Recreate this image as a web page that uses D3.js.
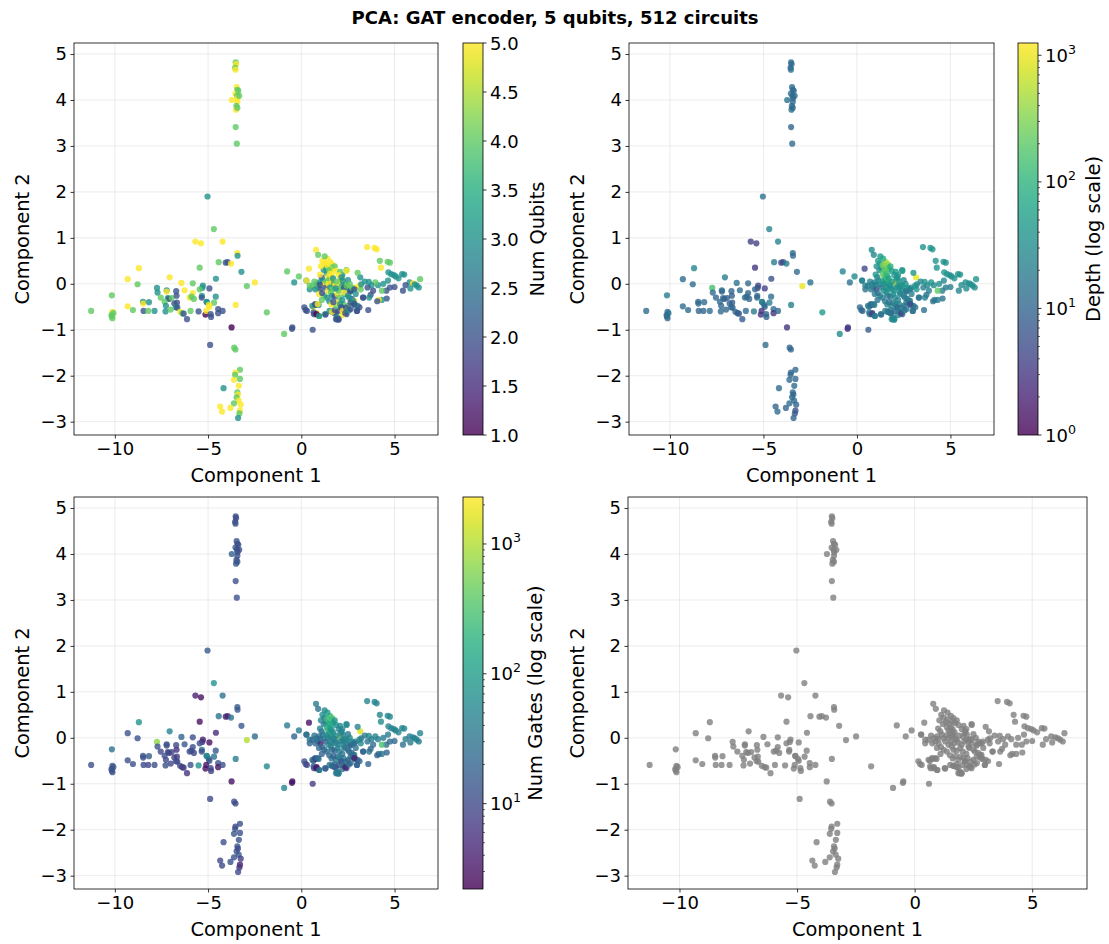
<!DOCTYPE html>
<html><head><meta charset="utf-8">
<script src="https://cdn.jsdelivr.net/npm/d3@7"></script>
<style>body{margin:0;background:#fff} text{font-family:"DejaVu Sans",sans-serif}</style>
</head><body><svg id="c" width="1109" height="944"></svg>
<script>
// PCA component scores [Component 1, Component 2] per circuit
const pcaScores = [
[-3.52,4.82],[-3.50,4.78],[-3.55,4.70],[-3.53,4.66],[-3.47,4.28],[-3.43,4.22],[-3.53,4.14],[-3.38,4.20],[-3.45,4.09],[-3.42,4.04],
[-3.33,4.09],[-3.73,4.00],[-3.43,3.96],[-3.48,3.87],[-3.50,3.79],[-3.43,3.83],[-3.52,3.41],[-3.46,3.05],[-4.89,-1.33],[-3.60,-1.39],
[-3.53,-1.43],[-3.29,-1.87],[-3.53,-1.93],[-3.55,-1.98],[-3.61,-2.09],[-3.29,-2.07],[-4.17,-2.27],[-3.35,-2.22],[-3.43,-2.36],[-3.40,-2.41],
[-3.47,-2.47],[-3.36,-2.54],[-3.25,-2.63],[-3.61,-2.60],[-4.35,-2.67],[-4.25,-2.78],[-3.80,-2.70],[-3.29,-2.76],[-3.32,-2.82],[-3.39,-2.92],
[-5.03,1.90],[-4.69,1.19],[-5.68,0.92],[-5.38,0.88],[-4.22,0.92],[-3.43,0.67],[-3.42,0.61],[-4.43,0.47],[-4.05,0.46],[-3.95,0.47],
[-3.77,0.44],[-5.45,0.35],[-8.71,0.34],[-3.21,0.26],[-4.58,0.11],[-9.31,0.10],[-7.06,0.14],[-2.49,0.03],[-8.78,-0.01],[-6.43,0.02],
[-5.82,0.01],[-2.92,-0.05],[-7.74,-0.09],[-5.28,-0.04],[-5.31,-0.09],[-4.93,-0.10],[-7.22,-0.14],[-7.22,-0.17],[-6.71,-0.16],[-6.26,-0.14],
[-5.82,-0.20],[-5.45,-0.12],[-10.16,-0.25],[-7.71,-0.19],[-7.54,-0.30],[-7.16,-0.31],[-7.09,-0.33],[-6.95,-0.31],[-6.69,-0.26],[-5.99,-0.30],
[-5.89,-0.28],[-5.76,-0.33],[-5.33,-0.26],[-5.34,-0.30],[-4.59,-0.28],[-5.08,-0.39],[-4.68,-0.41],[-8.49,-0.39],[-8.48,-0.43],[-8.17,-0.40],
[-7.33,-0.39],[-7.26,-0.48],[-6.81,-0.43],[-6.67,-0.41],[-6.72,-0.51],[-6.65,-0.52],[-9.31,-0.49],[-9.03,-0.57],[-8.46,-0.59],[-8.21,-0.59],
[-7.87,-0.59],[-7.28,-0.60],[-7.00,-0.56],[-6.50,-0.61],[-6.38,-0.64],[-6.31,-0.65],[-5.94,-0.59],[-6.13,-0.77],[-5.51,-0.60],[-5.14,-0.67],
[-5.07,-0.40],[-4.96,-0.46],[-4.93,-0.50],[-5.10,-0.59],[-4.86,-0.66],[-4.84,-0.72],[-4.46,-0.55],[-4.46,-0.64],[-4.22,-0.59],[-3.52,-0.46],
[-3.74,-0.95],[-11.27,-0.59],[-10.13,-0.61],[-10.08,-0.64],[-10.18,-0.68],[-10.16,-0.71],[-10.13,-0.75],[-0.76,0.27],[-0.38,0.03],[-0.13,0.16],
[-1.85,-0.62],[-0.48,-0.95],[-0.50,-0.98],[-0.92,-1.09],[0.61,-1.00],[0.41,0.33],[0.27,0.07],[0.79,0.74],[0.90,0.63],[0.16,-0.51],
[0.23,-0.57],[0.30,-0.59],[0.65,-0.50],[0.76,-0.46],[0.93,-0.46],[0.68,-0.66],[0.82,-0.64],[0.97,-0.70],[1.28,-0.66],[1.64,-0.61],
[1.78,-0.64],[1.92,-0.77],[1.99,-0.78],[3.53,0.80],[3.93,0.78],[4.04,0.75],[4.21,0.50],[4.63,0.48],[4.75,0.46],[4.27,0.35],
[4.67,0.25],[4.82,0.21],[4.96,0.19],[5.06,0.16],[5.21,0.12],[5.41,0.21],[5.52,0.20],[6.37,0.10],[5.81,0.03],[5.99,0.01],
[6.09,-0.01],[6.19,-0.04],[6.30,-0.08],[5.59,-0.03],[5.45,-0.15],[5.85,-0.10],[5.00,-0.07],[4.75,-0.08],[4.56,-0.15],[4.32,-0.15],
[4.58,-0.32],[4.32,-0.35],[4.15,-0.35],[4.07,-0.38],[4.65,0.07],[4.11,-0.03],[3.97,0.03],[3.76,-0.03],[3.62,0.04],[3.55,-0.08],
[3.72,-0.24],[3.64,-0.30],[3.16,0.14],[3.12,-0.04],[3.19,-0.12],[3.31,-0.30],[3.59,-0.57],[3.02,-0.48],[3.12,-0.51],[2.98,-0.59],
[2.91,-0.08],[2.77,-0.12],[2.63,-0.17],[2.42,-0.13],[2.34,-0.03],[2.32,-0.22],[2.70,-0.33],[2.84,-0.37],[2.77,-0.42],[2.88,-0.46],
[2.56,-0.30],[2.25,-0.44],[2.13,-0.51],[2.03,-0.59],[2.34,-0.62],[2.42,-0.66],[2.20,-0.68],[1.85,-0.64],[1.92,-0.73],[2.42,0.30],
[2.20,0.19],[2.13,0.10],[2.06,0.02],[2.20,-0.04],[1.13,0.50],[1.23,0.44],[1.33,0.34],[1.20,0.30],[1.54,0.48],[1.65,0.43],
[1.60,0.35],[1.72,0.32],[1.79,0.38],[1.86,0.28],[2.08,0.26],[2.00,0.19],[2.15,0.14],[2.43,0.28],[1.37,0.23],[1.44,0.16],
[1.51,0.10],[1.58,0.03],[1.65,0.07],[1.72,-0.01],[1.79,-0.04],[1.09,0.14],[1.16,0.07],[1.23,-0.01],[1.30,-0.08],[0.95,0.03],
[0.81,-0.01],[0.88,-0.08],[1.02,-0.12],[0.59,-0.04],[0.45,-0.12],[0.28,0.07],[1.44,-0.15],[1.58,-0.19],[1.65,-0.26],[1.79,-0.28],
[1.94,-0.22],[2.00,-0.15],[0.95,-0.22],[1.23,-0.26],[1.37,-0.30],[2.12,-0.08],[2.22,0.07],[2.29,-0.08],[2.43,-0.04],[2.29,-0.19],
[2.50,-0.26],[2.64,-0.15],[2.71,-0.08],[2.85,-0.12],[2.92,-0.22],[3.02,0.24],[3.21,-0.01],[3.32,-0.30],[0.59,-0.48],[0.74,-0.44],
[0.88,-0.44],[0.66,-0.62],[0.81,-0.66],[0.95,-0.70],[1.30,-0.67],[1.51,-0.59],[1.65,-0.61],[1.79,-0.57],[1.86,-0.48],[1.94,-0.41],
[2.08,-0.44],[2.15,-0.51],[2.22,-0.59],[2.36,-0.64],[1.86,-0.77],[2.00,-0.77],[2.50,-0.48],[2.64,-0.41],[2.78,-0.37],[2.85,-0.44],
[2.99,-0.59],[0.45,-0.04],[1.00,0.20],[1.40,0.55],[1.10,-0.35],
[1.40,0.40],[1.48,0.30],[1.55,0.22],[1.62,0.18],[1.70,0.12],[1.35,0.05],[1.45,0.00],[1.55,-0.08],[1.68,-0.12],[1.85,-0.10],
[1.00,-0.02],[0.70,0.05],[0.75,-0.12],[1.12,-0.20],[1.50,-0.38],[1.62,-0.45],[1.72,-0.40],[2.05,-0.30],[2.20,-0.35],[2.40,-0.52],
[2.55,-0.58],[2.65,-0.55],[1.25,0.60],[1.05,0.38],[1.90,0.05],[2.50,0.08],[2.60,0.00],[3.40,0.05],[3.85,-0.15],[4.40,0.00]
];
const numQubits = [
4,5,4,5,5,4,5,4,4,5, 4,5,5,4,5,4,4,4,2,4, 4,4,5,4,5,4,3,5,4,5, 4,5,5,4,5,5,5,5,4,3,
3,4,5,5,5,5,3,4,2,2, 5,4,5,3,3,5,5,5,4,5, 4,4,3,3,3,2,3,5,2,5, 5,4,4,3,4,3,2,4,2,5,
4,4,3,2,3,3,4,3,5,3, 4,3,2,2,3,2,5,4,2,4, 3,3,4,5,4,2,4,2,2,1, 3,5,5,5,2,2,2,2,2,5,
1,4,5,4,4,4,4,4,3,4, 4,2,2,4,2,5,3,5,4,2, 2,2,5,2,3,2,5,4,3,2, 2,2,2,5,5,5,4,4,4,5,
3,3,3,3,3,3,3,4,3,5, 3,3,3,2,2,3,2,2,2,4, 2,3,5,2,3,3,4,3,3,2, 2,3,3,5,4,2,2,3,2,2,
5,4,2,3,4,3,2,5,2,3, 3,4,3,2,3,2,5,2,3,4, 3,5,5,3,5,5,4,3,5,5, 4,5,4,5,4,5,3,5,3,5,
4,2,5,3,5,2,3,5,2,3, 3,4,2,4,3,5,5,4,3,2, 5,4,5,4,3,4,3,2,4,5, 3,2,4,2,3,4,3,2,3,2,
5,2,1,3,2,3,5,2,4,5, 3,2,5,2,2,2,4,2,3,2, 2,4,5,5,4,
5,4,5,5,3,4,5,3,4,3, 2,4,3,2,3,5,2,4,3,2, 3,2,4,5,4,3,4,3,2,3
];
const circuitDepth = [
12,12,10,14,12,12,15,12,10,12, 12,15,12,12,14,12,10,12,12,10, 10,12,10,12,12,10,12,12,12,10, 12,12,10,12,10,12,10,6,8,10,
15,25,4,4,25,12,12,20,5,5, 20,3,25,12,6,12,20,15,12,15, 12,1000,150,5,5,4,12,12,10,12, 10,10,20,12,10,12,8,10,8,10,
12,10,12,10,12,25,20,12,12,12, 12,10,10,8,10,10,12,12,10,10, 12,12,10,10,8,8,12,8,20,3, 20,15,10,3,10,10,12,3,12,20,
3,12,15,15,12,15,12,25,15,30, 50,3,3,30,8,5,20,30,25,12, 12,10,12,4,20,12,4,20,25,12, 10,30,30,40,40,40,40,40,35,40,
40,40,40,30,40,40,40,40,30,40, 30,40,30,30,25,30,20,20,20,200, 15,20,20,15,30,30,40,30,40,20, 15,20,1000,40,40,20,15,15,15,12,
40,40,15,30,40,20,15,20,12,20, 20,30,30,12,25,8,20,12,20,40, 40,60,800,40,60,50,40,30,500,400, 300,150,80,60,50,40,40,50,200,250,
100,40,150,60,40,20,30,40,15,25, 20,30,5,20,15,25,40,30,25,15, 30,40,20,25,20,40,40,30,40,30, 20,15,40,20,20,40,30,15,20,12,
20,15,4,20,12,20,20,15,25,20, 25,12,20,5,30,30,20,15,20,5, 15,20,40,80,15,
300,200,150,100,60,50,40,30,40,30, 20,25,20,15,20,25,15,30,25,15, 20,15,50,40,40,30,40,30,20,30
];
const numGates = [
12,10,12,12,14,12,15,12,10,14, 12,20,12,12,15,14,12,12,10,12, 10,12,10,12,14,12,12,12,14,10, 12,15,8,12,10,10,12,4,6,10,
15,80,4,3,30,15,15,30,4,4, 30,3,80,15,5,12,50,25,12,20, 12,1000,700,4,5,3,12,12,10,15, 12,12,30,12,10,12,8,10,6,10,
12,10,30,12,15,50,30,15,12,15, 12,10,8,8,12,10,12,12,10,10, 12,12,10,10,6,8,12,6,80,3, 50,40,12,3,10,8,12,3,12,40,
3,12,15,15,12,15,12,40,20,40, 60,3,3,50,8,3,25,40,30,12, 12,10,12,3,30,12,3,40,30,12, 12,40,40,50,50,50,50,60,50,60,
50,50,50,40,50,60,60,50,40,50, 40,50,40,40,30,40,25,25,25,300, 20,30,30,20,40,40,50,40,50,30, 20,30,1500,50,50,25,20,20,20,15,
60,50,20,40,60,30,20,30,15,30, 30,50,40,12,40,8,30,12,30,60, 60,80,700,50,80,60,50,40,300,300, 250,120,80,80,60,50,50,60,150,200,
100,40,200,60,50,25,40,50,20,30, 25,40,4,25,20,30,60,40,30,20, 40,50,25,30,25,50,50,40,50,40, 25,20,50,25,30,50,40,20,25,12,
30,15,3,30,15,30,30,20,40,30, 40,15,30,4,40,40,30,20,30,4, 20,30,50,100,20,
250,150,120,80,60,60,50,40,50,40, 25,30,25,20,25,30,20,40,30,20, 25,20,60,50,50,40,50,40,25,40
];
const xTicks = [-10, -5, 0, 5];
const yTicks = [-3, -2, -1, 0, 1, 2, 3, 4, 5];
const qubitTicks = [1.0, 1.5, 2.0, 2.5, 3.0, 3.5, 4.0, 4.5, 5.0];
const depthTicks = [1, 10, 100, 1000];
const gateTicks = [10, 100, 1000];
const qubitRange = [1, 5];
const depthRange = [1, 1250];
const gateRange = [2.2, 2300];

const TICK_FS = 18, LABEL_FS = 19.4;
const svg = d3.select('#c');
svg.append('rect').attr('width', 1109).attr('height', 944).attr('fill', '#fff');
svg.append('text').attr('x', 555).attr('y', 24).attr('text-anchor', 'middle')
  .attr('font-size', 18).attr('font-weight', 'bold').text('PCA: GAT encoder, 5 qubits, 512 circuits');

const xDomain = [-12.19, 7.33], yDomain = [-3.29, 5.24];
const fmtMinus = d => (d < 0 ? '\u2212' + Math.abs(d) : '' + d);
const ALPHA = 0.8;

function styleAxis(sel) {
  sel.select('.domain').remove();
  sel.selectAll('.tick line').attr('stroke', '#000').attr('stroke-width', 0.8);
  sel.selectAll('.tick text').attr('font-size', TICK_FS).attr('fill', '#000').attr('font-family', '"DejaVu Sans",sans-serif');
}

function panel(box, colorFn, ylabX) {
  const g = svg.append('g');
  const x = d3.scaleLinear().domain(xDomain).range([box.x0, box.x1]);
  const y = d3.scaleLinear().domain(yDomain).range([box.y1, box.y0]);
  g.selectAll('.gx').data(xTicks).join('line').attr('class', 'gx')
    .attr('x1', d => x(d)).attr('x2', d => x(d)).attr('y1', box.y0).attr('y2', box.y1)
    .attr('stroke', '#b0b0b0').attr('stroke-opacity', 0.3).attr('stroke-width', 0.8);
  g.selectAll('.gy').data(yTicks).join('line').attr('class', 'gy')
    .attr('y1', d => y(d)).attr('y2', d => y(d)).attr('x1', box.x0).attr('x2', box.x1)
    .attr('stroke', '#b0b0b0').attr('stroke-opacity', 0.3).attr('stroke-width', 0.8);
  g.append('g').selectAll('circle').data(pcaScores.map((p, i) => ({ p, i }))).join('circle')
    .attr('cx', d => x(d.p[0])).attr('cy', d => y(d.p[1])).attr('r', 3.1)
    .attr('fill', d => colorFn(d.i)).attr('fill-opacity', ALPHA);
  g.append('g').attr('transform', `translate(0,${box.y1})`)
    .call(d3.axisBottom(x).tickValues(xTicks).tickSize(3.5).tickPadding(3.5).tickFormat(fmtMinus)).call(styleAxis);
  g.append('g').attr('transform', `translate(${box.x0},0)`)
    .call(d3.axisLeft(y).tickValues(yTicks).tickSize(3.5).tickPadding(3.5).tickFormat(fmtMinus)).call(styleAxis);
  g.append('rect').attr('x', box.x0).attr('y', box.y0).attr('width', box.x1 - box.x0).attr('height', box.y1 - box.y0)
    .attr('fill', 'none').attr('stroke', '#000').attr('stroke-width', 0.8);
  g.append('text').attr('x', (box.x0 + box.x1) / 2).attr('y', box.y1 + 47).attr('text-anchor', 'middle')
    .attr('font-size', LABEL_FS).text('Component 1');
  g.append('text').attr('transform', `translate(${ylabX},${(box.y0 + box.y1) / 2}) rotate(-90)`)
    .attr('text-anchor', 'middle').attr('font-size', LABEL_FS).text('Component 2');
}

function colorbar(cb, scale, isLog, ticks, label, labX) {
  const g = svg.append('g');
  const y = (isLog ? d3.scaleLog() : d3.scaleLinear()).domain(scale.domain()).range([cb.y1, cb.y0]);
  const id = 'grad' + Math.round(cb.x + cb.y0);
  const grad = svg.append('defs').append('linearGradient').attr('id', id)
    .attr('x1', 0).attr('y1', 1).attr('x2', 0).attr('y2', 0);
  d3.range(0, 1.0001, 0.02).forEach(t => grad.append('stop').attr('offset', t).attr('stop-color', d3.interpolateViridis(t)));
  g.append('rect').attr('x', cb.x).attr('y', cb.y0).attr('width', cb.w).attr('height', cb.y1 - cb.y0)
    .attr('fill', `url(#${id})`).attr('fill-opacity', ALPHA);
  g.append('rect').attr('x', cb.x).attr('y', cb.y0).attr('width', cb.w).attr('height', cb.y1 - cb.y0)
    .attr('fill', 'none').attr('stroke', '#000').attr('stroke-width', 0.8);
  const xr = cb.x + cb.w;
  if (isLog) {
    const [lo, hi] = scale.domain();
    const minors = [];
    for (let k = Math.floor(Math.log10(lo)); k <= Math.ceil(Math.log10(hi)); k++)
      for (let m = 2; m <= 9; m++) { const v = m * Math.pow(10, k); if (v >= lo && v <= hi) minors.push(v); }
    g.selectAll('.mn').data(minors).join('line').attr('x1', xr).attr('x2', xr + 2)
      .attr('y1', d => y(d)).attr('y2', d => y(d)).attr('stroke', '#000').attr('stroke-width', 0.6);
  }
  g.selectAll('.mj').data(ticks).join('line').attr('x1', xr).attr('x2', xr + 3.5)
    .attr('y1', d => y(d)).attr('y2', d => y(d)).attr('stroke', '#000').attr('stroke-width', 0.8);
  const tl = g.selectAll('.tl').data(ticks).join('text').attr('x', xr + 7).attr('y', d => y(d) + 6.5)
    .attr('font-size', TICK_FS);
  if (isLog) {
    tl.each(function (d) {
      const t = d3.select(this);
      t.append('tspan').text('10');
      t.append('tspan').attr('dy', -8).attr('font-size', 12.6).text(Math.round(Math.log10(d)));
    });
  } else {
    tl.text(d => d.toFixed(1));
  }
  g.append('text').attr('transform', `translate(${labX},${(cb.y0 + cb.y1) / 2}) rotate(-90)`)
    .attr('text-anchor', 'middle').attr('font-size', LABEL_FS).text(label);
}

const qScale = d3.scaleSequential(d3.interpolateViridis).domain(qubitRange);
const dScale = d3.scaleSequentialLog(d3.interpolateViridis).domain(depthRange);
const gScale = d3.scaleSequentialLog(d3.interpolateViridis).domain(gateRange);

panel({ x0: 74, x1: 438, y0: 43, y1: 435 }, i => qScale(numQubits[i]), 29);
colorbar({ x: 463, w: 20, y0: 43, y1: 435 }, qScale, false, qubitTicks, 'Num Qubits', 544);
panel({ x0: 629, x1: 994, y0: 43, y1: 435 }, i => dScale(circuitDepth[i]), 584);
colorbar({ x: 1018, w: 20, y0: 43, y1: 435 }, dScale, true, depthTicks, 'Depth (log scale)', 1100);
panel({ x0: 74, x1: 438, y0: 497, y1: 889 }, i => gScale(numGates[i]), 29);
colorbar({ x: 463, w: 20, y0: 497, y1: 889 }, gScale, true, gateTicks, 'Num Gates (log scale)', 542);
panel({ x0: 628, x1: 1087, y0: 497, y1: 889 }, () => '#808080', 584);
</script></body></html>
